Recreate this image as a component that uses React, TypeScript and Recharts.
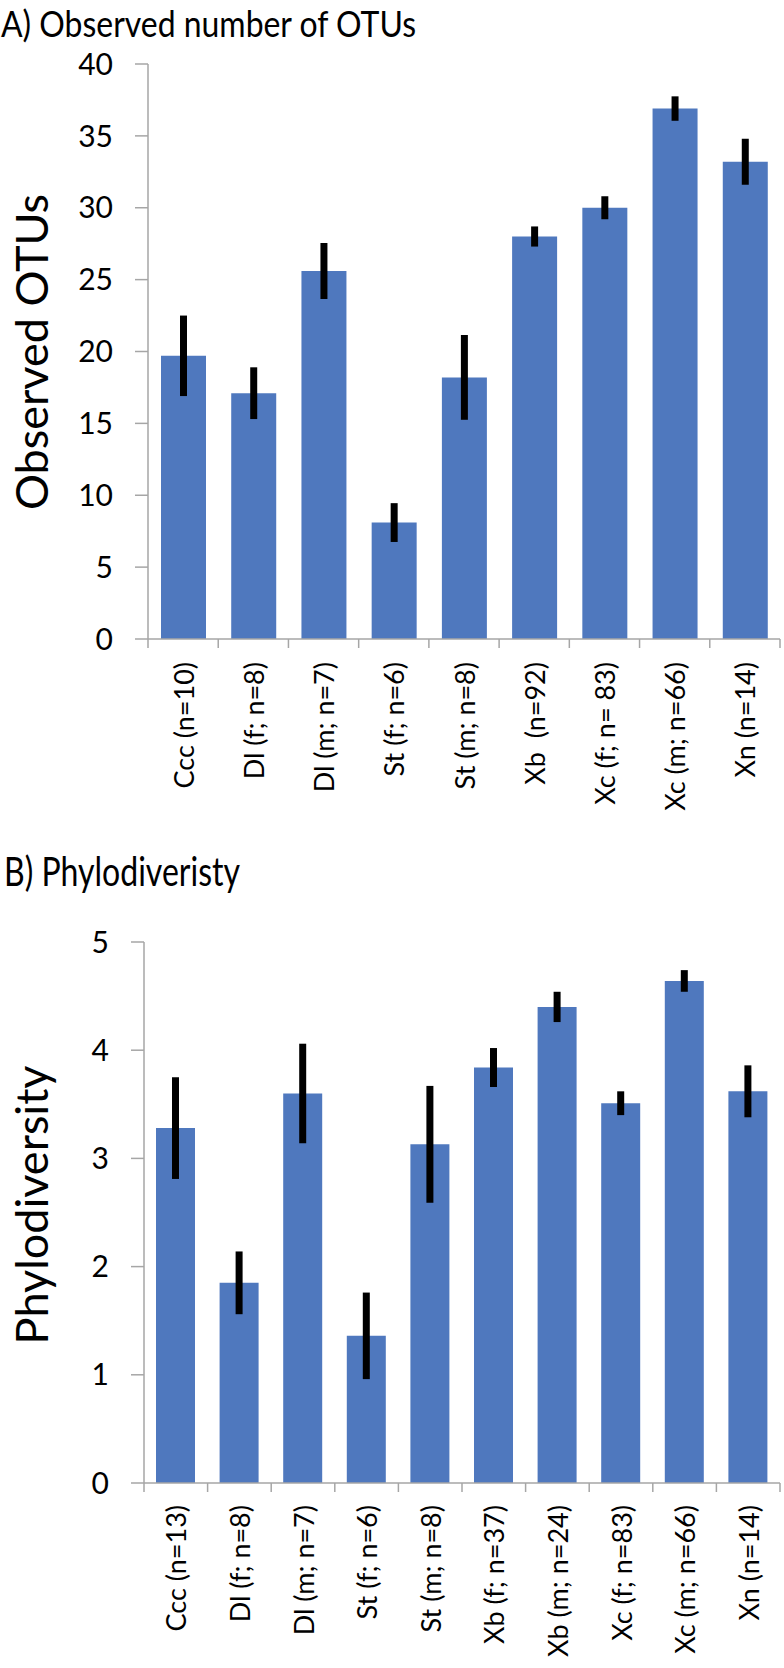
import React from "react";
import { BarChart, Bar, XAxis, YAxis, ErrorBar } from "recharts";

// A) observed OTUs
const otuCategories = [
  "Ccc (n=10)",
  "Dl (f; n=8)",
  "Dl (m; n=7)",
  "St (f; n=6)",
  "St (m; n=8)",
  "Xb  (n=92)",
  "Xc (f; n= 83)",
  "Xc (m; n=66)",
  "Xn (n=14)",
];
const otuMeans = [19.7, 17.1, 25.6, 8.1, 18.2, 28.0, 30.0, 36.9, 33.2];
const otuErrors = [2.8, 1.8, 1.95, 1.35, 2.95, 0.7, 0.8, 0.85, 1.6];
const otuTicks = [0, 5, 10, 15, 20, 25, 30, 35, 40];

// B) phylodiversity
const pdCategories = [
  "Ccc (n=13)",
  "Dl (f; n=8)",
  "Dl (m; n=7)",
  "St (f; n=6)",
  "St (m; n=8)",
  "Xb (f; n=37)",
  "Xb (m; n=24)",
  "Xc (f; n=83)",
  "Xc (m; n=66)",
  "Xn (n=14)",
];
const pdMeans = [3.28, 1.85, 3.6, 1.36, 3.13, 3.84, 4.4, 3.51, 4.64, 3.62];
const pdErrors = [0.47, 0.29, 0.46, 0.4, 0.54, 0.18, 0.14, 0.11, 0.1, 0.24];
const pdTicks = [0, 1, 2, 3, 4, 5];

const FONT = "Lato, 'Open Sans', sans-serif";
const AXIS = "#a6a6a6";
const BAR = "#4f78be";

const otuData = otuCategories.map((name, i) => ({ name, value: otuMeans[i], err: otuErrors[i] }));
const pdData = pdCategories.map((name, i) => ({ name, value: pdMeans[i], err: pdErrors[i] }));

function CategoryTick(props: any) {
  const { x, y, payload, index, count, gap } = props;
  const half = payload.offset || 0;
  const ty = y + gap;
  return (
    <g>
      <line x1={x - half} x2={x - half} y1={y} y2={y + 9} stroke={AXIS} strokeWidth={1.5} />
      {index === count - 1 && (
        <line x1={x + half} x2={x + half} y1={y} y2={y + 9} stroke={AXIS} strokeWidth={1.5} />
      )}
      <text
        x={x}
        y={ty}
        transform={`rotate(-90, ${x}, ${ty})`}
        textAnchor="end"
        dominantBaseline="central"
        fontSize={27}
        fontFamily={FONT}
        fill="#000"
        style={{ whiteSpace: "pre" }}
      >
        {payload.value}
      </text>
    </g>
  );
}

function Panel(props: any) {
  const { data, ticks, top, height, marginTop, yWidth, xHeight, barSize, gap } = props;
  return (
    <div style={{ position: "absolute", left: 0, top }}>
      <BarChart
        width={784}
        height={height}
        data={data}
        margin={{ top: marginTop, right: 4, bottom: 0, left: 0 }}
        barSize={barSize}
      >
        <XAxis
          dataKey="name"
          interval={0}
          height={xHeight}
          tickSize={0}
          tickMargin={0}
          tickLine={false}
          axisLine={{ stroke: AXIS, strokeWidth: 1.5 }}
          tick={(p: any) => <CategoryTick {...p} count={data.length} gap={gap} />}
        />
        <YAxis
          width={yWidth}
          domain={[ticks[0], ticks[ticks.length - 1]]}
          ticks={ticks}
          interval={0}
          tickSize={13}
          tickMargin={22}
          axisLine={{ stroke: AXIS, strokeWidth: 1.5 }}
          tickLine={{ stroke: AXIS, strokeWidth: 1.5 }}
          tick={{ fill: "#000", fontSize: 30, fontFamily: FONT }}
        />
        <Bar dataKey="value" fill={BAR} isAnimationActive={false}>
          <ErrorBar dataKey="err" width={0} strokeWidth={7} stroke="#000" direction="y" />
        </Bar>
      </BarChart>
    </div>
  );
}

export default function App() {
  return (
    <div
      style={{
        position: "absolute",
        left: 0,
        top: 0,
        width: 784,
        height: 1668,
        background: "#fff",
        fontFamily: FONT,
      }}
    >
      <Panel
        data={otuData}
        ticks={otuTicks}
        top={0}
        height={860}
        marginTop={64}
        yWidth={148}
        xHeight={221}
        barSize={45}
        gap={23}
      />
      <Panel
        data={pdData}
        ticks={pdTicks}
        top={860}
        height={808}
        marginTop={82}
        yWidth={144}
        xHeight={185}
        barSize={39}
        gap={22}
      />
      <svg
        width={784}
        height={1668}
        style={{ position: "absolute", left: 0, top: 0, pointerEvents: "none" }}
        fontFamily={FONT}
      >
        <text x={1} y={37} fontSize={37} textLength={415} lengthAdjust="spacingAndGlyphs">
          A) Observed number of OTUs
        </text>
        <text x={4} y={886} fontSize={40} textLength={236} lengthAdjust="spacingAndGlyphs">
          B) Phylodiveristy
        </text>
        <text
          x={31}
          y={352}
          fontSize={45}
          textAnchor="middle"
          dominantBaseline="central"
          transform="rotate(-90, 31, 352)"
        >
          Observed OTUs
        </text>
        <text
          x={31}
          y={1205}
          fontSize={45}
          textAnchor="middle"
          dominantBaseline="central"
          transform="rotate(-90, 31, 1205)"
        >
          Phylodiversity
        </text>
      </svg>
    </div>
  );
}
